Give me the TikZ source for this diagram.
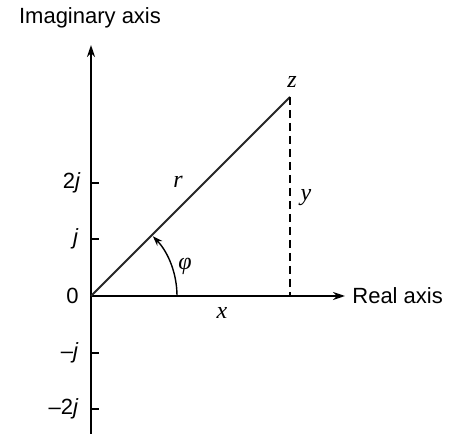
\documentclass[tikz,border=0pt]{standalone}
\usepackage{fontspec}
\setmainfont{Liberation Sans}
\newfontfamily\varfont{Liberation Serif}[ItalicFont={* Italic}]
\usetikzlibrary{arrows.meta,positioning}

\begin{document}
\begin{tikzpicture}[x=0.5pt, y=0.5pt, >=Stealth,
    axis/.style={line width=1pt, -{Stealth[length=6pt, width=4pt]}},
    tick/.style={line width=1pt},
    lbl/.style={font=\fontsize{11}{13}\selectfont, inner sep=1pt},
    var/.style={font=\fontsize{12}{14}\varfont\itshape, inner sep=1pt}]

  \useasboundingbox (0,0) rectangle (456,434);

  % Define coordinates
  \coordinate (O) at (91, 138);
  \coordinate (Itop) at (91, 389);
  \coordinate (Ibot) at (91, 0);
  \coordinate (Rtip) at (345, 138);
  \coordinate (Z) at (290, 337);
  \coordinate (Zfoot) at (290, 138);
  \coordinate (A) at (177, 138);
  \coordinate (T2) at (91, 251);
  \coordinate (T1) at (91, 195);
  \coordinate (Tm1) at (91, 81);
  \coordinate (Tm2) at (91, 25);

  % Axis labels
  \node[lbl] (imag) at (90, 416) {Imaginary axis};
  \node[lbl, anchor=west] (real) at (350, 138) {Real axis};

  % Tick labels
  \node[lbl, anchor=east] (l2) at (83, 251) {2\textit{j}};
  \node[lbl, anchor=east] (l1) at (81, 195) {\textit{j}};
  \node[lbl, anchor=east] (l0) at (81, 138) {0};
  \node[lbl, anchor=east] (lm1) at (81, 81) {–\textit{j}};
  \node[lbl, anchor=east] (lm2) at (81, 25) {–2\textit{j}};

  % Variable labels
  \node[var] (zl) at (292, 352) {z};
  \node[var] (rl) at (178, 252) {r};
  \node[var] (yl) at (306, 236) {y};
  \node[var] (xl) at (222, 121) {x};
  \node[var] (phil) at (185, 168) {φ};

  % Draw axes and ticks
  \draw[axis] (Ibot) -- (Itop);
  \draw[axis] (O) -- (Rtip);
  \draw[tick] (T2) -- ++(8, 0);
  \draw[tick] (T1) -- ++(8, 0);
  \draw[tick] (Tm1) -- ++(8, 0);
  \draw[tick] (Tm2) -- ++(8, 0);

  % Draw phasor, projection and angle
  \draw[line width=0.9pt, black!85] (O) -- (Z);
  \draw[line width=0.8pt, dash pattern=on 4pt off 2.5pt] (Z) -- (Zfoot);
  \draw[line width=0.7pt, -{Stealth[length=5pt, width=3.5pt]}] (A) arc[start angle=0, end angle=44, radius=86];
\end{tikzpicture}
\end{document}
